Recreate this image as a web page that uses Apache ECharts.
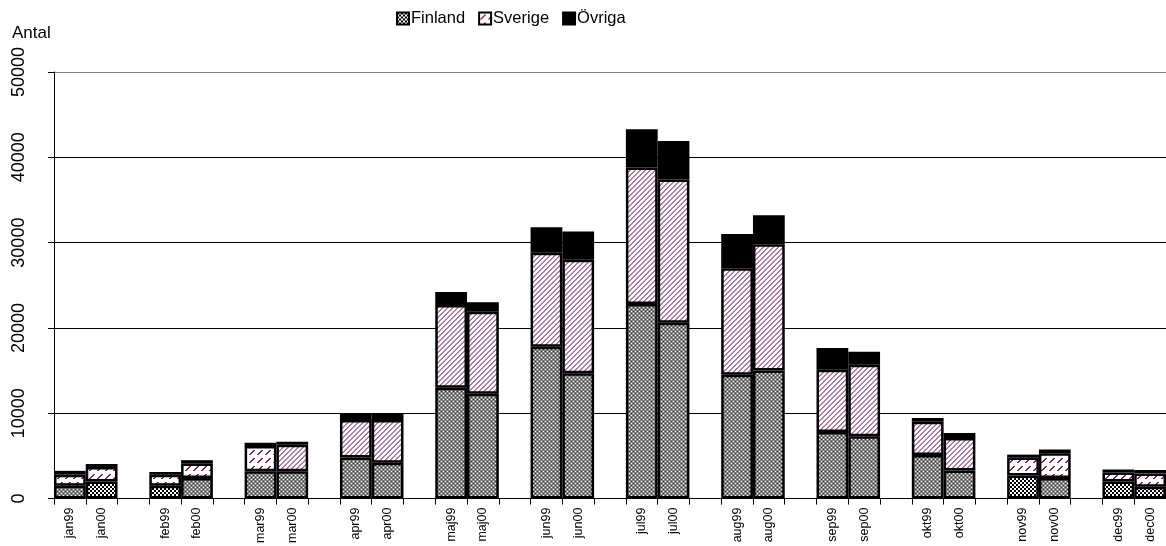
<!DOCTYPE html>
<html><head><meta charset="utf-8">
<script src="https://cdn.jsdelivr.net/npm/echarts@6/dist/echarts.min.js"></script>
<style>html,body{margin:0;padding:0;background:#fff}#c{width:1166px;height:546px}</style>
</head><body><div id="c"></div>
<script>
// ---- data ----
var categories = ['jan99','jan00','','feb99','feb00','','mar99','mar00','','apr99','apr00','','maj99','maj00','','jun99','jun00','','jul99','jul00','','aug99','aug00','','sep99','sep00','','okt99','okt00','','nov99','nov00','','dec99','dec00'];
var finland = [1500,2000,null,1500,2400,null,3200,3200,null,4800,4200,null,13000,12300,null,17800,14700,null,22800,20600,null,14500,15000,null,7800,7300,null,5100,3300,null,2700,2400,null,2000,1400];
var sverige = [1300,1700,null,1300,1700,null,2950,3100,null,4400,5000,null,9700,9600,null,11000,13300,null,16000,16800,null,12500,14800,null,7300,8400,null,3900,3800,null,2100,2900,null,1050,1550];
var ovriga  = [450,350,null,300,400,null,400,350,null,800,700,null,1500,1100,null,3000,3300,null,4500,4500,null,4000,3400,null,2550,1500,null,450,600,null,350,450,null,350,400];
var yTicks = [0,10000,20000,30000,40000,50000];
// which bars use the coarse (black/white checker / bold stripe) rendering
var finlandChecker = ['jan00','feb99','nov99','dec99','dec00'];
var sverigeCoarse = ['jan99','jan00','feb99','feb00','mar99','nov99','nov00','dec99','dec00'];

// ---- patterns ----
function mk(w,h,draw){var c=document.createElement('canvas');c.width=w;c.height=h;var g=c.getContext('2d');draw(g);return {image:c,repeat:'repeat'};}
var patGray = mk(4,4,function(g){g.fillStyle='#858585';g.fillRect(0,0,4,4);g.fillStyle='#ffffff';g.fillRect(1,1,1,1);g.fillRect(3,3,1,1);g.fillStyle='#333';g.fillRect(3,1,1,1);g.fillRect(1,3,1,1);});
var patChecker = mk(4,4,function(g){g.fillStyle='#fff';g.fillRect(0,0,4,4);g.fillStyle='#000';g.fillRect(0,0,2,2);g.fillRect(2,2,2,2);});
var patFine = mk(5,5,function(g){g.fillStyle='#fff';g.fillRect(0,0,5,5);g.fillStyle='#b07aa4';for(var i=0;i<5;i++){g.fillRect(i,4-i,1,1);g.fillRect((i+1)%5,4-i,1,1);}});
var patCoarse = mk(8,8,function(g){g.fillStyle='#fff';g.fillRect(0,0,8,8);g.fillStyle='#8b1f62';for(var i=1;i<6;i++){g.fillRect(i,7-i,2,1);}});

function build(vals, def, alt, altList){
  return vals.map(function(v,i){
    if(v==null) return null;
    var useAlt = altList.indexOf(categories[i])>=0;
    return {value:v, itemStyle:{color: useAlt?alt:def}};
  });
}

var chart = echarts.init(document.getElementById('c'),null,{renderer:'canvas'});
var base = {type:'bar', stack:'s', barCategoryGap:'0%', barGap:'0%', animation:false,
  emphasis:{disabled:true}};
var bw = 2.5;
chart.setOption({
  animation:false,
  textStyle:{fontFamily:'Liberation Sans, Arial, sans-serif', color:'#000'},
  title:{text:'Antal', left:7, top:20, textStyle:{fontSize:17, fontWeight:'normal', color:'#000', fontFamily:'Liberation Sans, Arial, sans-serif'}},
  legend:{left:391, top:5, itemWidth:12, itemHeight:12, itemGap:13, icon:'rect',
    textStyle:{fontSize:16.5, color:'#000', padding:[0,0,0,-3]},
    data:['Finland','Sverige','Övriga']},
  grid:{left:54, top:72, width:1120, height:428, containLabel:false},
  xAxis:{type:'category', data:categories,
    axisLine:{lineStyle:{color:'#000', width:1}},
    axisTick:{show:true, interval:0, length:6, lineStyle:{color:'#000'}},
    axisLabel:{interval:0, rotate:90, fontSize:12.5, color:'#000', margin:9},
    splitLine:{show:false}},
  yAxis:{type:'value', min:yTicks[0], max:yTicks[yTicks.length-1], interval:10000,
    axisLine:{show:true, lineStyle:{color:'#000', width:1}},
    axisTick:{show:true, length:6, lineStyle:{color:'#000'}},
    axisLabel:{rotate:90, fontSize:18, color:'#000', margin:26, formatter:function(v){return String(v);}},
    splitLine:{show:true, lineStyle:{color:['#000','#000','#000','#000','#000','#808080'], width:1}}},
  series:[
    Object.assign({}, base, {name:'Finland', itemStyle:{color:patChecker, borderColor:'#000', borderWidth:bw}, data:build(finland, patGray, patChecker, finlandChecker)}),
    Object.assign({}, base, {name:'Sverige', itemStyle:{color:patCoarse, borderColor:'#000', borderWidth:bw}, data:build(sverige, patFine, patCoarse, sverigeCoarse)}),
    Object.assign({}, base, {name:'Övriga', itemStyle:{color:'#000', borderColor:'#000', borderWidth:bw}, data:ovriga})
  ]
});
</script></body></html>
